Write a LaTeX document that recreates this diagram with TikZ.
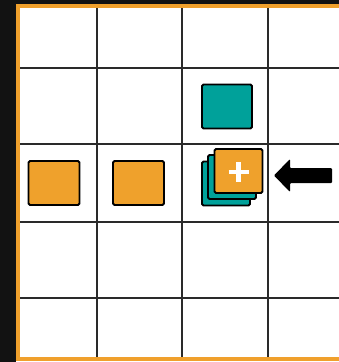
\documentclass[tikz,border=0pt]{standalone}
\usetikzlibrary{calc}
\definecolor{bandorange}{HTML}{F0A02C}
\definecolor{boxorange}{HTML}{EFA12C}
\definecolor{boxteal}{HTML}{00A19A}
\definecolor{gridgray}{HTML}{2A2A2A}
\tikzset{
  gridline/.style={draw=gridgray, line width=1.7pt},
  tile/.style={draw=black, line width=1.8pt, rounded corners=1.5pt, minimum width=#1, minimum height=44pt, inner sep=0pt, outer sep=0pt},
  orangetile/.style={tile=51pt, fill=boxorange},
  tealtile/.style={tile=50pt, fill=boxteal},
  stacktile/.style={tile=48pt}
}
\begin{document}
\begin{tikzpicture}[x=1pt,y=-1pt]
  \useasboundingbox (0,0) rectangle (339,362);
  \fill[white] (0,0) rectangle (339,362);
  % grid
  \foreach \gx in {97,182,268} \draw[gridline] (\gx,6) -- (\gx,359);
  \foreach \gy in {68,144,222,298} \draw[gridline] (17,\gy) -- (339,\gy);
  % black bands
  \fill[black!93] (0,0) rectangle (339,4.2);
  \fill[black!93] (0,0) rectangle (15.5,362);
  % orange frame
  \fill[bandorange] (15.5,4.2) rectangle (339,8);
  \fill[bandorange] (15.5,4.2) rectangle (20,361);
  \fill[bandorange] (15.5,357) rectangle (339,361);
  % tiles
  \node[tealtile] (teal) at (227,106.5) {};
  \node[orangetile] (o1) at (54,183) {};
  \node[orangetile] (o2) at (138.5,183) {};
  \node[stacktile, fill=boxteal] (back) at (226,183.5) {};
  \node[stacktile, fill=boxteal] (mid) at (232,177) {};
  \node[stacktile, fill=boxorange] (front) at (238.5,171) {};
  \draw[white, line width=4.5pt] ($(front.center)+(-10,1)$) -- ($(front.center)+(10,1)$);
  \draw[white, line width=4.5pt] ($(front.center)+(0,-9)$) -- ($(front.center)+(0,11)$);
  % arrow
  \fill[black, rounded corners=1pt] (274,175.5) -- (290,159) -- (290,168) -- (332,168) -- (332,183) -- (290,183) -- (290,192) -- cycle;
\end{tikzpicture}
\end{document}
